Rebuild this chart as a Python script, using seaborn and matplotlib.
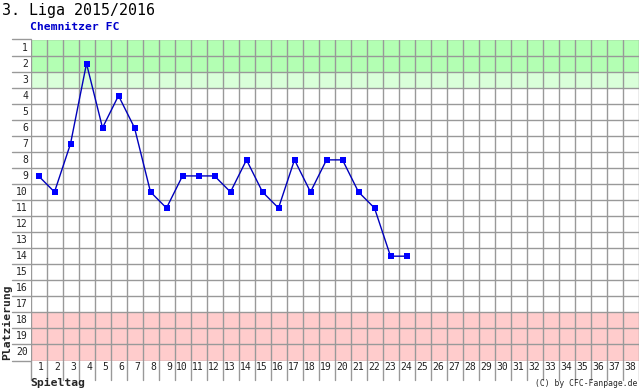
import numpy as np
import pandas as pd
import matplotlib
matplotlib.use("Agg")
import matplotlib.pyplot as plt
import seaborn as sns

spieltag = list(range(1, 25))
platz = [9, 10, 7, 2, 6, 4, 6, 10, 11, 9, 9, 9, 10, 8, 10, 11, 8, 10, 8, 8, 10, 11, 14, 14]
x_labels = [str(i) for i in range(1, 39)]
y_labels = [str(i) for i in range(1, 21)]

sns.set_style("white")
plt.rcParams['font.family'] = ['DejaVu Sans Mono', 'DejaVu Sans']

W, H = 639, 391
fig = plt.figure(figsize=(W / 100, H / 100), dpi=100)
L, R, T, B = 30.5, 638.5, 39.5, 360.5
ax = fig.add_axes([L / W, 1 - B / H, (R - L) / W, (B - T) / H])
ax.set_xlim(0.5, 38.5)
ax.set_ylim(20.5, 0.5)

ax.axhspan(0.5, 2.5, color='#b3ffb3', lw=0, zorder=0)
ax.axhspan(2.5, 3.5, color='#d9ffd9', lw=0, zorder=0)
ax.axhspan(17.5, 20.5, color='#ffcccc', lw=0, zorder=0)

grid_c = '#999999'
ax.set_xticks(np.arange(0.5, 39.5, 1))
ax.set_yticks(np.arange(0.5, 21.5, 1))
ax.set_xticklabels([])
ax.set_yticklabels([])
ax.tick_params(length=0)
ax.grid(True, color=grid_c, lw=1)
ax.set_axisbelow(True)
for s in ax.spines.values():
    s.set_visible(False)

px_x = (R - L) / 38.0
px_y = (B - T) / 20.0
# extension lines into label areas
for xv in np.arange(0.5, 39.5, 1):
    ax.plot([xv, xv], [20.5, 20.5 + 19 / px_y], color=grid_c, lw=1, clip_on=False, zorder=1)
for yv in np.arange(0.5, 21.5, 1):
    ax.plot([0.5 - 18.5 / px_x, 0.5], [yv, yv], color=grid_c, lw=1, clip_on=False, zorder=1)

for i, lab in enumerate(x_labels):
    ax.text(i + 1 + 0.5 - 2.5 / px_x, 20.5 + 7 / px_y, lab, ha='right', va='center',
            fontsize=7, color='#222222', clip_on=False)
for i, lab in enumerate(y_labels):
    ax.text(0.5 - 2.5 / px_x, i + 1, lab, ha='right', va='center',
            fontsize=7, color='#222222', clip_on=False)

df = pd.DataFrame({'Spieltag': spieltag, 'Platz': platz})
sns.lineplot(data=df, x='Spieltag', y='Platz', ax=ax, color='#0000bb', lw=1,
             marker='s', markersize=4.5, markeredgewidth=0, markerfacecolor='#0000ff', zorder=5)
ax.set_xlabel('')
ax.set_ylabel('')

fig.text(2 / W, 1 - 10 / H, '3. Liga 2015/2016', fontsize=10.8, ha='left', va='center', color='#000000')
fig.text(30 / W, 1 - 27 / H, 'Chemnitzer FC', fontsize=8.2, fontweight='bold', ha='left', va='center', color='#0000cc')
fig.text(7 / W, 1 - 322 / H, 'Platzierung', fontsize=8.2, fontweight='bold', rotation=90, ha='center', va='center')
fig.text(30 / W, 1 - 383 / H, 'Spieltag', fontsize=8.2, fontweight='bold', ha='left', va='center')
fig.text(637 / W, 1 - 384 / H, '(C) by CFC-Fanpage.de', fontsize=5.8, ha='right', va='center')

fig.savefig('out.png', dpi=100)
